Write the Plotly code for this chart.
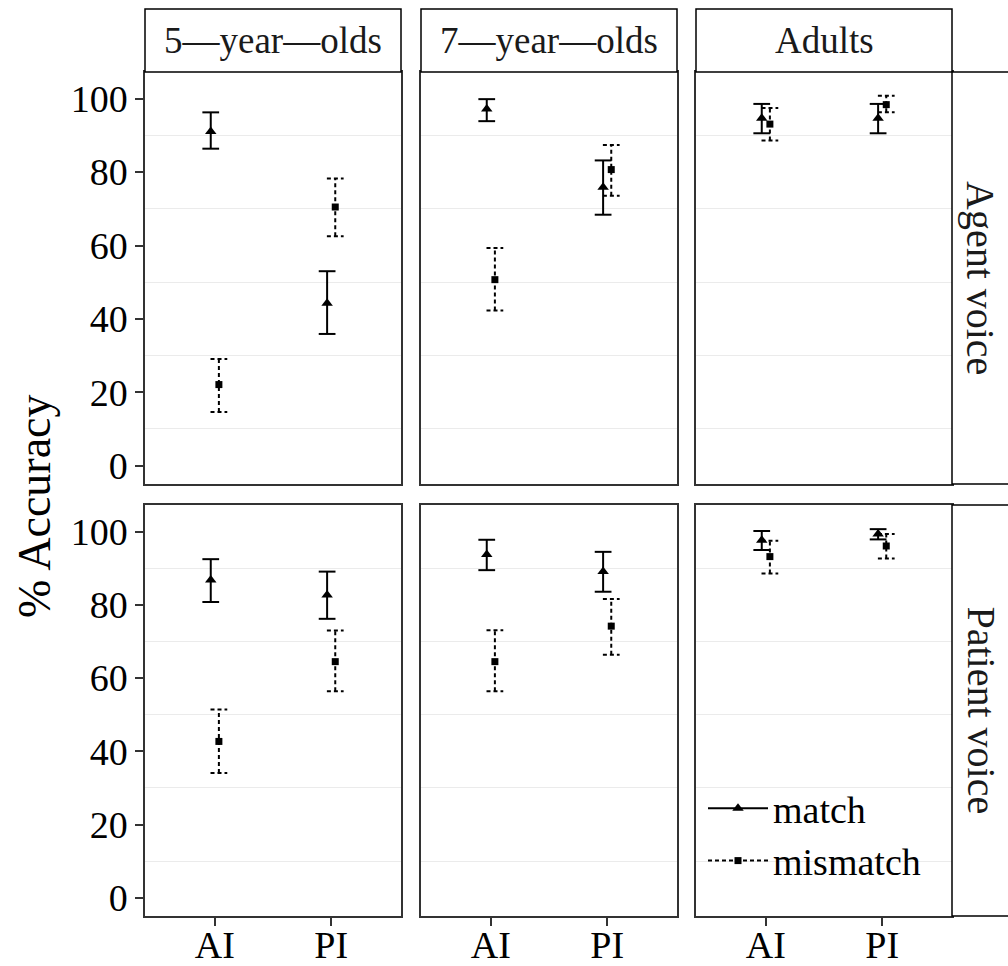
import plotly.graph_objects as go

# ---------------- data ----------------
GROUPS = ["5—year—olds", "7—year—olds", "Adults"]
VOICES = ["Agent voice", "Patient voice"]
CONDS = ["AI", "PI"]

# order in each list: 5yo AI, 5yo PI, 7yo AI, 7yo PI, Adults AI, Adults PI
match_mean_agent = [91.1, 44.3, 97.2, 75.9, 94.7, 94.7]
match_lo_agent = [86.4, 35.9, 93.9, 68.4, 90.6, 90.6]
match_hi_agent = [96.3, 53.0, 99.9, 83.2, 98.6, 98.6]
mismatch_mean_agent = [22.1, 70.5, 50.7, 80.7, 93.1, 98.4]
mismatch_lo_agent = [14.6, 62.5, 42.3, 73.6, 88.6, 96.3]
mismatch_hi_agent = [29.1, 78.3, 59.3, 87.4, 97.5, 100.8]

match_mean_patient = [86.8, 82.7, 93.8, 89.1, 97.7, 99.4]
match_lo_patient = [80.8, 76.2, 89.5, 83.6, 95.0, 97.9]
match_hi_patient = [92.5, 89.1, 97.8, 94.5, 100.2, 100.7]
mismatch_mean_patient = [42.7, 64.5, 64.5, 74.2, 93.2, 96.1]
mismatch_lo_patient = [34.1, 56.4, 56.4, 66.4, 88.6, 92.7]
mismatch_hi_patient = [51.4, 73.0, 73.1, 81.6, 97.5, 99.4]

Y_TICKS = [0, 20, 40, 60, 80, 100]
Y_MINOR = [10, 30, 50, 70, 90]
SERIES = ["match", "mismatch"]

DATA = {
    ("Agent voice", "match"): (match_mean_agent, match_lo_agent, match_hi_agent),
    ("Agent voice", "mismatch"): (mismatch_mean_agent, mismatch_lo_agent, mismatch_hi_agent),
    ("Patient voice", "match"): (match_mean_patient, match_lo_patient, match_hi_patient),
    ("Patient voice", "mismatch"): (mismatch_mean_patient, mismatch_lo_patient, mismatch_hi_patient),
}

# ---------------- style / layout ----------------
W, H = 1008, 966
FONT = "Liberation Serif"
FS = 38
DODGE = {"match": -0.035, "mismatch": 0.035}
CAP = 0.072
DASH = {"match": "solid", "mismatch": "4px,3px"}
SYMBOL = {"match": "triangle-up", "mismatch": "square"}
MSIZE = {"match": 10, "mismatch": 7}

col_px = [(145, 401), (421, 677), (696, 952)]
row_px = [(72, 484), (505, 916)]


def fx(p):
    return p / W


def fy(p):
    return 1 - p / H


fig = go.Figure()
layout = {}

for r, voice in enumerate(VOICES):
    for c, grp in enumerate(GROUPS):
        idx = r * 3 + c + 1
        sfx = "" if idx == 1 else str(idx)
        xref, yref = "x" + sfx, "y" + sfx
        for s in SERIES:
            mean, lo, hi = DATA[(voice, s)]
            ex, ey, mx, my = [], [], [], []
            for k in range(len(CONDS)):
                i = c * 2 + k
                xc = k + 1 + DODGE[s]
                ex += [xc, xc, None,
                       xc - CAP, xc + CAP, None,
                       xc - CAP, xc + CAP, None]
                ey += [lo[i], hi[i], None,
                       hi[i], hi[i], None,
                       lo[i], lo[i], None]
                mx.append(xc)
                my.append(mean[i])
            fig.add_trace(go.Scatter(
                x=ex, y=ey, mode="lines", xaxis=xref, yaxis=yref,
                line=dict(color="black", width=2, dash=DASH[s]),
                showlegend=False, hoverinfo="skip"))
            fig.add_trace(go.Scatter(
                x=mx, y=my, mode="markers", xaxis=xref, yaxis=yref,
                marker=dict(symbol=SYMBOL[s], size=MSIZE[s], color="black",
                            line=dict(width=0)),
                showlegend=False))
        x0, x1 = col_px[c]
        ytop, ybot = row_px[r]
        layout["xaxis" + sfx] = dict(
            domain=[fx(x0), fx(x1)], range=[0.4, 2.6], anchor=yref,
            automargin=False,
            tickvals=[1, 2], ticktext=CONDS,
            showticklabels=(r == 1), ticks="outside" if r == 1 else "",
            ticklen=8, tickwidth=1.5, tickcolor="#333333",
            ticklabelstandoff=-13,
            showline=True, mirror=True, linecolor="#333333", linewidth=1.5,
            showgrid=False, zeroline=False, fixedrange=True,
            tickfont=dict(family=FONT, size=FS, color="black"))
        layout["yaxis" + sfx] = dict(
            domain=[fy(ybot), fy(ytop)], range=[-5.0, 107.3], anchor=xref,
            automargin=False,
            tickvals=Y_TICKS, showticklabels=(c == 0),
            ticks="outside" if c == 0 else "",
            ticklen=8, tickwidth=1.5, tickcolor="#333333",
            showline=True, mirror=True, linecolor="#333333", linewidth=1.5,
            showgrid=False, zeroline=False, fixedrange=True,
            minor=dict(tickvals=Y_MINOR, showgrid=True, gridcolor="#ebebeb",
                       gridwidth=1, ticks=""),
            tickfont=dict(family=FONT, size=FS, color="black"))

# legend-only entries
for s in SERIES:
    fig.add_trace(go.Scatter(
        x=[None], y=[None], mode="lines+markers", name=s,
        line=dict(color="black", width=2, dash=DASH[s]),
        marker=dict(symbol=SYMBOL[s], size=MSIZE[s], color="black")))

shapes, annotations = [], []
# top strips
for c, grp in enumerate(GROUPS):
    x0, x1 = col_px[c]
    shapes.append(dict(type="rect", xref="paper", yref="paper",
                       x0=fx(x0), x1=fx(x1), y0=fy(72), y1=fy(9),
                       line=dict(color="black", width=1.5), fillcolor="white",
                       layer="above"))
    annotations.append(dict(xref="paper", yref="paper", x=fx((x0 + x1) / 2),
                            y=fy(41), text=grp, showarrow=False,
                            xanchor="center", yanchor="middle",
                            font=dict(family=FONT, size=37, color="#1a1a1a")))
# right strips
for r, voice in enumerate(VOICES):
    ytop, ybot = row_px[r]
    shapes.append(dict(type="rect", xref="paper", yref="paper",
                       x0=fx(952), x1=fx(1020), y0=fy(ybot), y1=fy(ytop),
                       line=dict(color="black", width=1.5), fillcolor="white",
                       layer="above"))
    annotations.append(dict(xref="paper", yref="paper", x=fx(981),
                            y=fy((ytop + ybot) / 2), text=voice, textangle=90,
                            showarrow=False, xanchor="center", yanchor="middle",
                            font=dict(family=FONT, size=40, color="#1a1a1a")))
# y-axis title
annotations.append(dict(xref="paper", yref="paper", x=fx(34), y=fy(506),
                        text="% Accuracy", textangle=-90, showarrow=False,
                        xanchor="center", yanchor="middle",
                        font=dict(family=FONT, size=46, color="black")))

fig.update_layout(
    width=W, height=H, margin=dict(l=0, r=0, t=0, b=0, autoexpand=False),
    paper_bgcolor="white", plot_bgcolor="white",
    shapes=shapes, annotations=annotations,
    showlegend=True,
    legend=dict(x=fx(703), y=fy(777), xanchor="left", yanchor="top",
                bgcolor="rgba(0,0,0,0)", borderwidth=0,
                font=dict(family=FONT, size=FS, color="black"),
                itemwidth=60, tracegroupgap=0),
    **layout)

fig.write_html("out.html")
